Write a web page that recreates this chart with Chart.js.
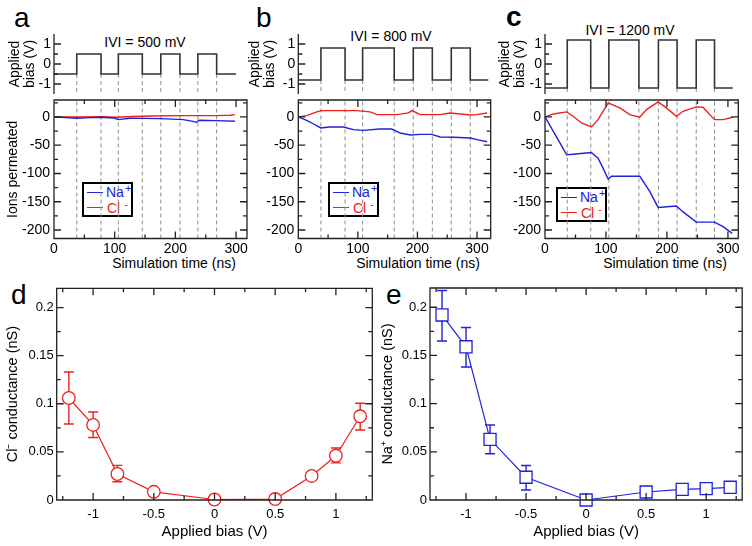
<!DOCTYPE html>
<html>
<head>
<meta charset="utf-8">
<script src="https://cdn.jsdelivr.net/npm/chart.js@4/dist/chart.umd.min.js"></script>
<style>
  body { margin: 0; width: 752px; height: 546px; position: relative; overflow: hidden; background: #fff;
         font-family: "Liberation Sans", Arial, Helvetica, sans-serif; color: #000; }
  canvas { position: absolute; }
  .letter { position: absolute; font-size: 28px; line-height: 1; }
  .title { position: absolute; font-size: 14px; line-height: 1; white-space: nowrap; transform: translate(-50%, -50%); }
  .leg { position: absolute; width: 51px; height: 35px; border: 2px solid #000; box-sizing: border-box; background: #fff; }
  .leg i { position: absolute; left: 3px; width: 16px; border-top: 1.5px solid; }
  .leg span { position: absolute; font-size: 14px; line-height: 14px; white-space: nowrap; }
  .leg sup { font-size: 11px; vertical-align: 0; position: relative; top: -5px; margin-left: 1px; }
</style>
</head>
<body>
<div class="letter" style="left:14px;top:4px">a</div>
<div class="letter" style="left:256px;top:4px">b</div>
<div class="letter" style="left:506px;top:3px;font-weight:bold">c</div>
<div class="letter" style="left:11px;top:281px">d</div>
<div class="letter" style="left:386px;top:281px">e</div>

<div class="title" style="left:145px;top:42px">IVI = 500 mV</div>
<div class="title" style="left:391px;top:36px">IVI = 800 mV</div>
<div class="title" style="left:630px;top:30px">IVI = 1200 mV</div>

<div class="title" style="left:174px;top:263px">Simulation time (ns)</div>
<div class="title" style="left:418px;top:263px">Simulation time (ns)</div>
<div class="title" style="left:665px;top:263px">Simulation time (ns)</div>

<div class="leg" style="left:82px;top:182px">
  <i style="top:7.5px;border-color:#2020e0"></i><span style="left:22px;top:1px;color:#2020e0">Na<sup>+</sup></span>
  <i style="top:23px;border-color:#ee2020"></i><span style="left:23px;top:16.5px;color:#ee2020">Cl<sup style="margin-left:4px">-</sup></span>
</div>
<div class="leg" style="left:328px;top:182px">
  <i style="top:7.5px;border-color:#2020e0"></i><span style="left:22px;top:1px;color:#2020e0">Na<sup>+</sup></span>
  <i style="top:23px;border-color:#ee2020"></i><span style="left:23px;top:16.5px;color:#ee2020">Cl<sup style="margin-left:4px">-</sup></span>
</div>
<div class="leg" style="left:556px;top:187px">
  <i style="top:7.5px;border-color:#2020e0"></i><span style="left:22px;top:1px;color:#2020e0">Na<sup>+</sup></span>
  <i style="top:23px;border-color:#ee2020"></i><span style="left:23px;top:16.5px;color:#ee2020">Cl<sup style="margin-left:4px">-</sup></span>
</div>

<script>
const FONT = '"Liberation Sans", Arial, Helvetica, sans-serif';
const BLUE = "#2020e0";
const RED = "#ee2020";
const INK = "#222";
const DASH = "#8c8c8c";

// ---- panels a-c: cumulative ions permeated vs time ----
const naTimeA = [0, 20, 37, 60, 76, 99, 106, 125, 150, 175, 213, 229, 235, 239, 268, 298];
const naIonsA = [0, -1, -2.4, -1.2, -0.6, -1.8, -4.7, -2.4, -2.5, -3, -4.7, -7.7, -9.5, -5.9, -6.5, -7.7];
const clTimeA = [0, 40, 80, 103, 130, 158, 213, 268, 290, 298];
const clIonsA = [0, 0, 0.5, -0.6, 0.8, 1.8, 2.4, 2.4, 3, 4.1];

const naTimeB = [0, 14, 25, 37.6, 53, 75.7, 92.5, 109, 137, 157, 171, 188, 205, 224, 238, 261, 289, 300, 317];
const naIonsB = [0, -6, -12, -19.5, -17.8, -17.8, -22.5, -23.7, -21.3, -21.3, -28.4, -32, -30.8, -30.8, -35.5, -36, -37.3, -40, -43.8];
const clTimeB = [0, 14, 31, 39, 98, 120.6, 132, 165.5, 185, 190.7, 199, 205, 238, 255, 272, 289, 300, 317];
const clIonsB = [0, 2.4, 8.9, 11.2, 11.2, 8.9, 4.1, 4.1, 7.1, 11.2, 7.1, 4.1, 4.1, 7.1, 5.3, 3.6, 4.1, 7.1];

const naTimeC = [0, 13.6, 24.5, 35.5, 46, 76, 87, 95, 103.6, 109, 155.5, 172, 185.5, 215.5, 226, 248, 278, 292, 307];
const naIonsC = [0, -25.4, -46, -67, -66, -63, -73, -90, -110, -105, -105, -132, -160, -157.4, -167.5, -186, -186, -194, -206];
const clTimeC = [0, 13.6, 35.5, 46, 60, 76, 87, 103.6, 122.7, 139, 155.5, 166.4, 185.5, 199, 215.5, 226.4, 248, 259, 278, 292, 308];
const clIonsC = [0, 5.3, 8.9, 1.2, -10.7, -17.8, -4.7, 24.9, 16, 4.1, -0.6, 13, 26.6, 16, 1.2, 10, 17.8, 17.2, -4.7, -4.7, -0.6];

// bias switching times (ns), end of run, amplitude (V)
const switchA = [37.5, 77.5, 106, 145.5, 176, 207.5, 237, 268];
const switchB = [38, 78.5, 108, 161, 193, 225, 256.8, 288.7];
const switchC = [36.5, 75, 104.7, 154, 186, 216.6, 248, 278];
const runEnd = [300, 319, 308];
const biasAmp = [0.5, 0.8, 1.2];

const timeTicks = [0, 100, 200, 300];
const timeMinor = [50, 150, 250];
const ionTicks = [0, -50, -100, -150, -200];
const ionMinor = [25, -25, -75, -125, -175];
const biasTicks = [1, 0, -1];
const biasMinor = [0.5, -0.5];

// ---- panels d, e: conductance vs applied bias ----
const biasV = [-1.2, -1.0, -0.8, -0.5, 0, 0.5, 0.8, 1.0, 1.2];
const clCond = [0.106, 0.078, 0.027, 0.0085, 0.0005, 0.001, 0.025, 0.046, 0.087];
const clErrHi = [0.133, 0.0915, 0.036, null, null, null, null, 0.054, 0.1005];
const clErrLo = [0.079, 0.065, 0.019, null, null, null, null, 0.0386, 0.0727];
const naCond = [0.192, 0.159, 0.063, 0.0236, 0, 0.0083, 0.011, 0.0118, 0.0132];
const naErrHi = [0.2174, 0.179, 0.0778, 0.0358, null, null, null, null, null];
const naErrLo = [0.165, 0.138, 0.048, 0.0104, null, null, null, null, null];

const voltTicks = [-1, -0.5, 0, 0.5, 1];
const voltMinor = [-1.25, -0.75, -0.25, 0.25, 0.75, 1.25];
const condTicks = [0, 0.05, 0.1, 0.15, 0.2];
const condMinor = [0.025, 0.075, 0.125, 0.175];

// frame with inward ticks (all four sides for boxed plots, left only for bias plots)
const frameTicks = {
  id: "frameTicks",
  afterDraw(chart, args, o) {
    if (!o.on) return;
    const { ctx, chartArea: a } = chart;
    const x = chart.scales.x;
    const y = chart.scales.y;
    ctx.save();
    ctx.strokeStyle = INK;
    ctx.lineWidth = 1.3;
    ctx.beginPath();
    if (o.box) ctx.rect(a.left, a.top, a.right - a.left, a.bottom - a.top);
    else {
      ctx.moveTo(a.left, a.top);
      ctx.lineTo(a.left, a.bottom);
    }
    const yTick = (v, len) => {
      const p = y.getPixelForValue(v);
      ctx.moveTo(a.left, p);
      ctx.lineTo(a.left + len, p);
      if (o.box) {
        ctx.moveTo(a.right, p);
        ctx.lineTo(a.right - len, p);
      }
    };
    const xTick = (v, len) => {
      const p = x.getPixelForValue(v);
      ctx.moveTo(p, a.bottom);
      ctx.lineTo(p, a.bottom - len);
      ctx.moveTo(p, a.top);
      ctx.lineTo(p, a.top + len);
    };
    (o.yMajor || []).forEach(v => yTick(v, 7));
    (o.yMinor || []).forEach(v => yTick(v, 4));
    if (o.box) {
      (o.xMajor || []).forEach(v => xTick(v, 7));
      (o.xMinor || []).forEach(v => xTick(v, 4));
    }
    ctx.stroke();
    ctx.restore();
  },
};

const errorBars = {
  id: "errorBars",
  beforeDatasetsDraw(chart, args, o) {
    if (!o.hi) return;
    const { ctx } = chart;
    const x = chart.scales.x;
    const y = chart.scales.y;
    ctx.save();
    ctx.strokeStyle = o.color;
    ctx.lineWidth = 1.4;
    ctx.beginPath();
    o.x.forEach((v, i) => {
      if (o.hi[i] == null) return;
      const px = x.getPixelForValue(v);
      const top = y.getPixelForValue(o.hi[i]);
      const bot = y.getPixelForValue(o.lo[i]);
      ctx.moveTo(px, top);
      ctx.lineTo(px, bot);
      ctx.moveTo(px - 5, top);
      ctx.lineTo(px + 5, top);
      ctx.moveTo(px - 5, bot);
      ctx.lineTo(px + 5, bot);
    });
    ctx.stroke();
    ctx.restore();
  },
};

Chart.register(frameTicks, errorBars);

function place(left, top, w, h) {
  const c = document.createElement("canvas");
  c.width = w;
  c.height = h;
  c.style.left = left + "px";
  c.style.top = top + "px";
  c.style.width = w + "px";
  c.style.height = h + "px";
  document.body.appendChild(c);
  return c;
}

function axis(min, max, ticks, size, fontSize, pad, title) {
  return {
    type: "linear",
    min,
    max,
    grid: { display: false, drawTicks: false },
    border: { display: false },
    afterBuildTicks: s => {
      s.ticks = ticks.map(v => ({ value: v }));
    },
    afterFit: s => {
      // fixed axis size, no extra edge padding so the plot area lands where we want it
      if (s.isHorizontal()) s.height = size;
      else s.width = size;
      s.paddingTop = 0;
      s.paddingBottom = 0;
      s.paddingLeft = 0;
      s.paddingRight = 0;
    },
    ticks: {
      autoSkip: false,
      maxRotation: 0,
      padding: pad,
      color: "#000",
      font: { family: FONT, size: fontSize },
      callback: v => String(v),
    },
    title: title || { display: false },
  };
}

function yTitle(text, size, lh, offset) {
  return {
    display: true,
    text,
    color: "#000",
    font: { family: FONT, size, lineHeight: lh },
    padding: { top: offset, bottom: 0 },
  };
}

function pts(xs, ys) {
  return xs.map((x, i) => ({ x, y: ys[i] }));
}

function dashLines(times, y0, y1) {
  return times.map(t => ({
    data: [{ x: t, y: y0 }, { x: t, y: y1 }],
    borderColor: DASH,
    borderWidth: 1,
    borderDash: [4, 3],
    pointRadius: 0,
  }));
}

function squareWave(times, end, amp) {
  const out = [{ x: 0, y: -amp }];
  times.forEach((t, i) => out.push({ x: t, y: i % 2 === 0 ? amp : -amp }));
  out.push({ x: end, y: -amp });
  return out;
}

function baseOptions(pad) {
  return {
    responsive: false,
    animation: false,
    events: [],
    layout: { padding: pad },
    plugins: { legend: { display: false }, tooltip: { enabled: false } },
  };
}

// canvas boxes and plot areas for the three time panels
const colLeft = [0, 240, 490];
const colWidth = [250, 255, 262];
const areaLeft = [54, 298.3, 545];
const areaRight = [247, 490.7, 738.3];
const timeMax = [318, 323, 317];
const switches = [switchA, switchB, switchC];
const naSets = [[naTimeA, naIonsA], [naTimeB, naIonsB], [naTimeC, naIonsC]];
const clSets = [[clTimeA, clIonsA], [clTimeB, clIonsB], [clTimeC, clIonsC]];

for (let k = 0; k < 3; k++) {
  const L = colLeft[k];
  const W = colWidth[k];
  const amp = biasAmp[k];

  // applied bias square wave
  const c1 = place(L, 0, W, 97);
  const o1 = baseOptions({ left: 0, top: 34, right: L + W - areaRight[k], bottom: 3 });
  o1.scales = {
    x: Object.assign(axis(0, timeMax[k], [], 0, 14, 0), { display: false }),
    y: axis(-1.5, 1.5, biasTicks, areaLeft[k] - L, 14, 3, yTitle(["Applied", "bias (V)"], 14, 1.1, 7.3)),
  };
  o1.plugins.frameTicks = { on: true, box: false, yMajor: biasTicks, yMinor: biasMinor };
  new Chart(c1, {
    type: "line",
    data: {
      datasets: [
        { data: squareWave(switches[k], runEnd[k], amp), stepped: "before", borderColor: "#333", borderWidth: 1.6, pointRadius: 0 },
        ...dashLines(switches[k], -amp, -1.5),
      ],
    },
    options: o1,
  });

  // ions permeated
  const c2 = place(L, 97, W, 178);
  const o2 = baseOptions({ left: 0, top: 3, right: L + W - areaRight[k], bottom: 0 });
  o2.scales = {
    x: axis(0, timeMax[k], timeTicks, 275 - 238.5, 14, 2),
    y: axis(-215, 30, ionTicks, areaLeft[k] - L, 14, 4, k === 0 ? yTitle("Ions permeated", 14, 1.2, 4.6) : null),
  };
  o2.plugins.frameTicks = { on: true, box: true, xMajor: timeTicks, xMinor: timeMinor, yMajor: ionTicks, yMinor: ionMinor };
  new Chart(c2, {
    type: "line",
    data: {
      datasets: [
        { data: pts(naSets[k][0], naSets[k][1]), borderColor: BLUE, borderWidth: 1.4, pointRadius: 0 },
        { data: pts(clSets[k][0], clSets[k][1]), borderColor: RED, borderWidth: 1.4, pointRadius: 0 },
        ...dashLines(switches[k], -215, 30),
      ],
    },
    options: o2,
  });
}

// conductance panels
function condChart(left, width, areaL, areaR, areaT, values, hi, lo, color, style, radius, title, titleOff) {
  const cv = place(left, 275, width, 271);
  const o = baseOptions({ left: 0, top: areaT - 275, right: left + width - areaR, bottom: 0 });
  o.scales = {
    x: axis(-1.3, 1.3, voltTicks, 46, 13, 7, {
      display: true,
      text: "Applied bias (V)",
      color: "#000",
      font: { family: FONT, size: 15, lineHeight: 1.2 },
      padding: { top: 0, bottom: 5.6 },
    }),
    y: axis(0, 0.22, condTicks, areaL - left, 13, 3, yTitle(title, 14.5, 1.2, titleOff)),
  };
  o.plugins.frameTicks = { on: true, box: true, xMajor: voltTicks, xMinor: voltMinor, yMajor: condTicks, yMinor: condMinor };
  o.plugins.errorBars = { x: biasV, hi, lo, color };
  new Chart(cv, {
    type: "line",
    data: {
      datasets: [
        {
          data: pts(biasV, values),
          borderColor: color,
          borderWidth: 1.2,
          pointStyle: style,
          pointRadius: radius,
          pointBackgroundColor: "#fff",
          pointBorderColor: color,
          pointBorderWidth: 1.3,
          clip: false,
        },
      ],
    },
    options: o,
  });
}

condChart(0, 380, 56.7, 372.3, 288.3, clCond, clErrHi, clErrLo, RED, "circle", 6.3, "Cl\u207B conductance (nS)", 4.3);
condChart(378, 374, 430, 744, 288, naCond, naErrHi, naErrLo, BLUE, "rect", 8.5, "Na\u207A conductance (nS)", 0.8);
</script>
</body>
</html>
